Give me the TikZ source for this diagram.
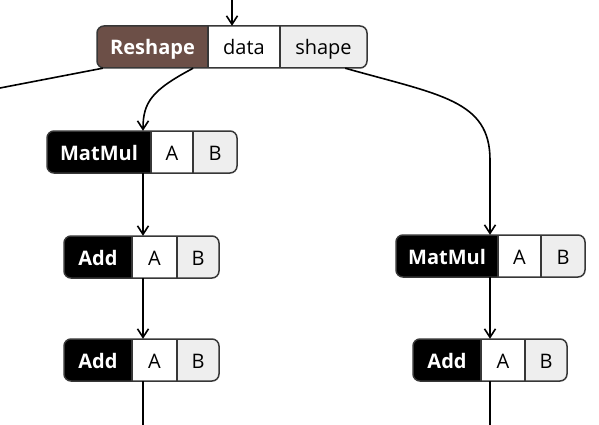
\documentclass[tikz,border=0pt]{standalone}
\usepackage{fontspec}
\setmainfont{Open Sans}
\usetikzlibrary{arrows.meta,calc}
\definecolor{shapecol}{RGB}{108,79,71}
\definecolor{bordercol}{RGB}{55,55,55}
\definecolor{constcol}{RGB}{238,238,238}
\tikzset{
  optext/.style={text=white,font=\fontsize{20}{24}\selectfont\bfseries,inner sep=0pt,text height=16pt,text depth=0pt,minimum height=42pt},
  intext/.style={text=black,font=\fontsize{20}{24}\selectfont,inner sep=0pt,text height=16pt,text depth=0pt,minimum height=42pt},
  conn/.style={draw=black,line width=1.6pt},
  arr/.style={conn,-{Straight Barb[length=8.5pt,width=11pt,line width=1.6pt]}},
  boxborder/.style={draw=bordercol,line width=1.5pt}
}
\def\opcol{black}
\newcommand\opbox[9]{%
  \begin{scope}
    \clip[rounded corners=7pt] (#2,#6) rectangle (#5,#6+42);
    \fill[\opcol] (#2,#6) rectangle (#3,#6+42);
    \fill[white] (#3,#6) rectangle (#4,#6+42);
    \fill[constcol] (#4,#6) rectangle (#5,#6+42);
  \end{scope}
  \draw[boxborder] (#3,#6) -- (#3,#6+42) (#4,#6) -- (#4,#6+42);
  \draw[boxborder,rounded corners=7pt] (#2,#6) rectangle (#5,#6+42);
  \node[optext,minimum width={#3-#2}] (#1op) at ({(#2+#3)/2},{#6+21}) {#7};
  \node[intext,minimum width={#4-#3}] (#1a) at ({(#3+#4)/2},{#6+21}) {#8};
  \node[intext,minimum width={#5-#4}] (#1b) at ({(#4+#5)/2},{#6+21}) {#9};
}
\begin{document}
\begin{tikzpicture}[x=1pt,y=-1pt]
\fill[white] (0,0) rectangle (599,425);
\useasboundingbox (0,0) rectangle (599,425);

\def\opcol{shapecol}
\opbox{r}{97}{208}{280}{367}{26}{Reshape}{data}{shape}
\def\opcol{black}
\opbox{mA}{47}{151}{193}{237}{131}{MatMul}{A}{B}
\opbox{aA}{64}{132}{177}{219}{236}{Add}{A}{B}
\opbox{aB}{64}{132}{177}{219}{339}{Add}{A}{B}
\opbox{mB}{396}{498}{541}{585}{235}{MatMul}{A}{B}
\opbox{aC}{413}{481}{525}{567}{339}{Add}{A}{B}

\coordinate (top) at (232,0);
\coordinate (cxa) at (143,0);
\coordinate (cxb) at (490,0);
\coordinate (lend) at (0,88);
\coordinate (bota) at (143,425);
\coordinate (botb) at (490,425);

\draw[arr] (top) -- (top |- ra.north);
\draw[conn] ([xshift=6pt]rop.south west) -- (lend);
\draw[arr] ([xshift=-15pt]rop.south east) .. controls (152,90) and (143,102) .. (cxa |- mAop.north);
\draw[arr] ([xshift=-22pt]rb.south east) .. controls (440,95) and (490,100) .. (490,160) -- (cxb |- mBop.north);
\draw[arr] (cxa |- mAop.south) -- (cxa |- aAa.north);
\draw[arr] (cxa |- aAa.south) -- (cxa |- aBa.north);
\draw[conn] (cxa |- aBa.south) -- (bota);
\draw[arr] (cxb |- mBop.south) -- (cxb |- aCa.north);
\draw[conn] (cxb |- aCa.south) -- (botb);
\end{tikzpicture}
\end{document}
